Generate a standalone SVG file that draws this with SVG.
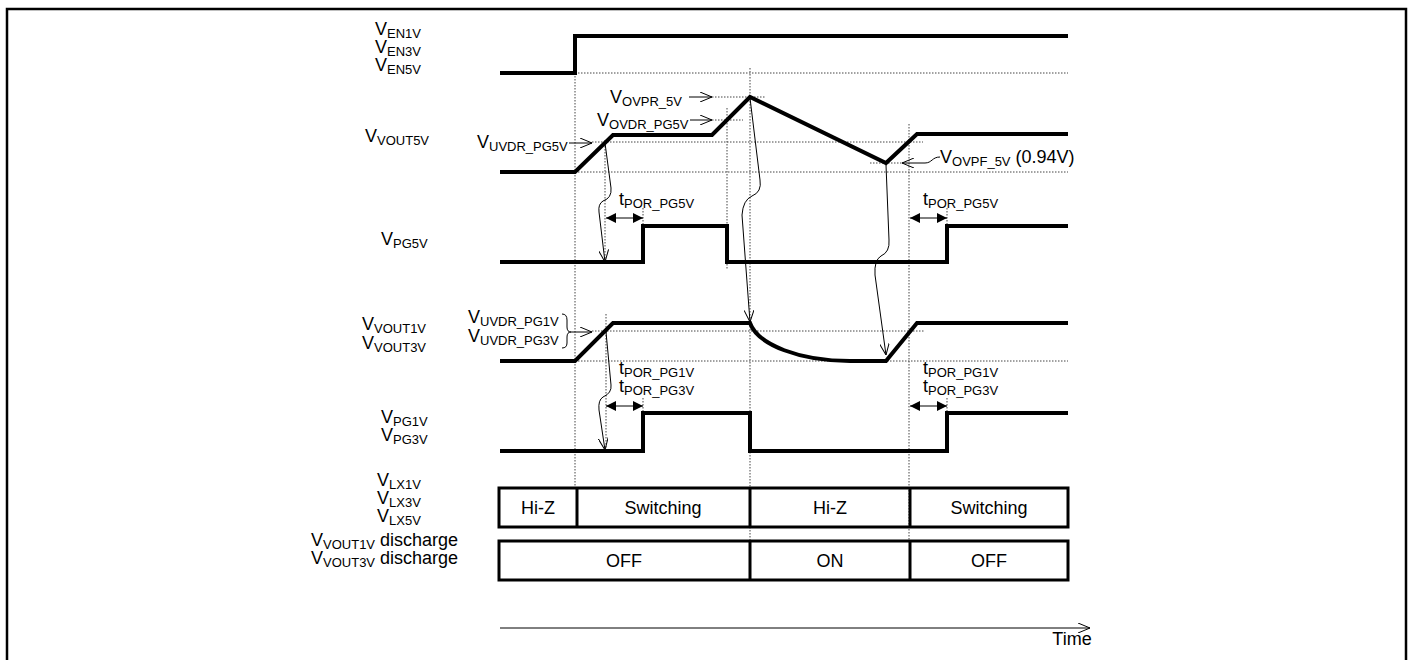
<svg xmlns="http://www.w3.org/2000/svg" width="1414" height="660" viewBox="0 0 1414 660">
<defs>
<style>
text{font-family:"Liberation Sans",Arial,sans-serif;fill:#000}
.lbl{font-size:18px}
.sub{font-size:13px}
.box{font-size:18px;text-anchor:middle}
.sig{fill:none;stroke:#000;stroke-width:4;stroke-linejoin:miter}
.bx{fill:none;stroke:#000;stroke-width:3}
.dot{fill:none;stroke:#444;stroke-width:1;stroke-dasharray:1.5 1.5}
.thin{fill:none;stroke:#000;stroke-width:1}
</style>
<marker id="oa" viewBox="0 0 12 10" refX="12" refY="5" markerWidth="12" markerHeight="10" markerUnits="userSpaceOnUse" orient="auto">
<path d="M0,0 L12,5 L0,10" fill="none" stroke="#000" stroke-width="1"/>
</marker>
<marker id="fa" viewBox="0 0 10 10" refX="10" refY="5" markerWidth="10" markerHeight="10" markerUnits="userSpaceOnUse" orient="auto-start-reverse">
<path d="M0,0 L10,5 L0,10 z" fill="#000"/>
</marker>
</defs>
<rect x="7" y="9" width="1399" height="670" fill="none" stroke="#000" stroke-width="2.5"/>

<g id="guides">
<path class="dot" d="M575,73 H1068 M592,142 H923 M575,172 H1068 M870,163 H902 M712,97 H766 M712,120 H743 M592,331 H925 M575,361 H1068"/>
<path class="dot" d="M575,73 V487 M750,68 V541 M909,124 V541 M727,108 V270 M605,140 V264 M606,314 V452 M643,208 V226 M947,208 V226 M643,398 V413 M947,398 V413"/>
</g>

<g id="labels">
<text class="lbl" x="375" y="35">V<tspan class="sub" dy="3">EN1V</tspan></text>
<text class="lbl" x="375" y="53">V<tspan class="sub" dy="3">EN3V</tspan></text>
<text class="lbl" x="375" y="71">V<tspan class="sub" dy="3">EN5V</tspan></text>
<text class="lbl" x="365" y="142">V<tspan class="sub" dy="3">VOUT5V</tspan></text>
<text class="lbl" x="381" y="245">V<tspan class="sub" dy="3">PG5V</tspan></text>
<text class="lbl" x="362" y="330">V<tspan class="sub" dy="3">VOUT1V</tspan></text>
<text class="lbl" x="362" y="349">V<tspan class="sub" dy="3">VOUT3V</tspan></text>
<text class="lbl" x="381" y="423">V<tspan class="sub" dy="3">PG1V</tspan></text>
<text class="lbl" x="381" y="441">V<tspan class="sub" dy="3">PG3V</tspan></text>
<text class="lbl" x="377" y="486">V<tspan class="sub" dy="3">LX1V</tspan></text>
<text class="lbl" x="377" y="504">V<tspan class="sub" dy="3">LX3V</tspan></text>
<text class="lbl" x="377" y="522">V<tspan class="sub" dy="3">LX5V</tspan></text>
<text class="lbl" x="311" y="546">V<tspan class="sub" dy="3">VOUT1V</tspan><tspan dy="-3"> discharge</tspan></text>
<text class="lbl" x="311" y="564">V<tspan class="sub" dy="3">VOUT3V</tspan><tspan dy="-3"> discharge</tspan></text>
</g>

<g id="annotations">
<text class="lbl" x="477" y="148">V<tspan class="sub" dy="3">UVDR_PG5V</tspan></text>
<text class="lbl" x="610" y="103">V<tspan class="sub" dy="3">OVPR_5V</tspan></text>
<text class="lbl" x="597" y="126">V<tspan class="sub" dy="3">OVDR_PG5V</tspan></text>
<text class="lbl" x="940" y="163">V<tspan class="sub" dy="3">OVPF_5V</tspan><tspan dy="-3"> (0.94V)</tspan></text>
<text class="lbl" x="619" y="205">t<tspan class="sub" dy="3">POR_PG5V</tspan></text>
<text class="lbl" x="923" y="205">t<tspan class="sub" dy="3">POR_PG5V</tspan></text>
<text class="lbl" x="468" y="323">V<tspan class="sub" dy="3">UVDR_PG1V</tspan></text>
<text class="lbl" x="468" y="342">V<tspan class="sub" dy="3">UVDR_PG3V</tspan></text>
<text class="lbl" x="619" y="374">t<tspan class="sub" dy="3">POR_PG1V</tspan></text>
<text class="lbl" x="619" y="392">t<tspan class="sub" dy="3">POR_PG3V</tspan></text>
<text class="lbl" x="923" y="374">t<tspan class="sub" dy="3">POR_PG1V</tspan></text>
<text class="lbl" x="923" y="392">t<tspan class="sub" dy="3">POR_PG3V</tspan></text>
<path class="thin" d="M562,314 Q567,314 567,320 L567,327 Q567,332 571,332 Q567,332 567,337 L567,343 Q567,348 562,348"/>
</g>

<g id="signals">
<path id="en" class="sig" d="M500,73 H575 V36 H1068"/>
<path id="vout5v" class="sig" d="M500,172 H575 L613,135 H712 L750,97 L886,163 L917,134 H1068"/>
<path id="pg5v" class="sig" d="M500,262 H643 V226 H727 V262 H947 V226 H1068"/>
<path id="vout1v" class="sig" d="M500,361 H575 L613,323 H750 C758,345 800,361 850,361 H886 L917,323 H1068"/>
<path id="pg1v" class="sig" d="M500,451 H643 V413 H750 V451 H947 V413 H1068"/>
</g>

<g id="lx">
<rect class="bx" x="499" y="488" width="569" height="39"/>
<path class="bx" d="M577,488 V527 M750,488 V527 M910,488 V527"/>
<text class="box" x="538" y="514">Hi-Z</text>
<text class="box" x="663" y="514">Switching</text>
<text class="box" x="830" y="514">Hi-Z</text>
<text class="box" x="989" y="514">Switching</text>
</g>

<g id="discharge">
<rect class="bx" x="499" y="541" width="569" height="39"/>
<path class="bx" d="M750,541 V580 M910,541 V580"/>
<text class="box" x="624" y="567">OFF</text>
<text class="box" x="830" y="567">ON</text>
<text class="box" x="989" y="567">OFF</text>
</g>

<g id="connectors">
<path class="thin" marker-end="url(#oa)" d="M569,143 H592"/>
<path class="thin" marker-end="url(#oa)" d="M689,97 H712"/>
<path class="thin" marker-end="url(#oa)" d="M690,120 H712"/>
<path class="thin" marker-end="url(#oa)" d="M571,332 H592"/>
<path class="thin" marker-end="url(#oa)" d="M940,157 C932,157 932,163 925,163 H902"/>
<path class="thin" marker-end="url(#oa)" d="M605,143 L611,188 Q612,198 603,201 Q598,204 599,212 L605,262"/>
<path class="thin" marker-end="url(#oa)" d="M750,98 L760,180 Q762,192 752,196 Q743,200 742,215 L750,322"/>
<path class="thin" marker-end="url(#oa)" d="M886,165 L889,240 Q890,252 881,256 Q874,260 875,275 L886,355"/>
<path class="thin" marker-end="url(#oa)" d="M606,332 L611,385 Q612,393 603,397 Q598,400 599,410 L605,450"/>
<path class="thin" stroke-width="1.5" marker-start="url(#fa)" marker-end="url(#fa)" d="M606,218 H643"/>
<path class="thin" stroke-width="1.5" marker-start="url(#fa)" marker-end="url(#fa)" d="M910,218 H947"/>
<path class="thin" stroke-width="1.5" marker-start="url(#fa)" marker-end="url(#fa)" d="M606,406 H643"/>
<path class="thin" stroke-width="1.5" marker-start="url(#fa)" marker-end="url(#fa)" d="M910,406 H947"/>
<path class="thin" marker-end="url(#oa)" d="M500,628 H1090"/>
<text class="box" x="1072" y="645">Time</text>
</g>
</svg>
